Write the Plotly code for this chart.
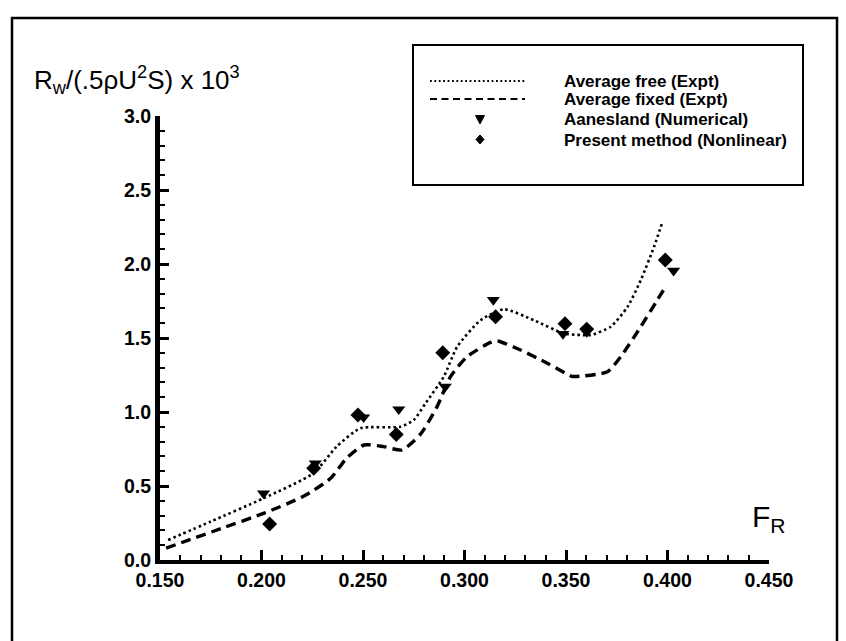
import plotly.graph_objects as go

# ---------------- data ----------------
free_x = [0.154, 0.175, 0.201, 0.2256, 0.237, 0.2487, 0.2684, 0.275, 0.2808, 0.2898,
          0.2964, 0.3079, 0.3194, 0.3342, 0.349, 0.3572, 0.3622, 0.372, 0.3803, 0.3868,
          0.3934, 0.3975]
free_y = [0.135, 0.26, 0.417, 0.586, 0.766, 0.89, 0.90, 0.946, 1.059, 1.239,
          1.441, 1.62, 1.694, 1.62, 1.53, 1.52, 1.52, 1.576, 1.71, 1.89,
          2.117, 2.285]

fixed_x = [0.153, 0.165, 0.180, 0.201, 0.2207, 0.2339, 0.2421, 0.2505, 0.2602, 0.2692,
           0.2783, 0.2865, 0.2931, 0.3013, 0.3128, 0.3161, 0.3276, 0.3408, 0.3507, 0.3531,
           0.3704, 0.377, 0.3868, 0.395, 0.3991]
fixed_y = [0.08, 0.139, 0.212, 0.315, 0.43, 0.55, 0.69, 0.777, 0.766, 0.743,
           0.85, 1.036, 1.239, 1.374, 1.47, 1.48, 1.419, 1.329, 1.255, 1.24,
           1.272, 1.374, 1.576, 1.757, 1.847]

aanes_x = [0.201, 0.2265, 0.2503, 0.2676, 0.2905, 0.3142, 0.3485, 0.3602, 0.403]
aanes_y = [0.45, 0.653, 0.964, 1.018, 1.171, 1.757, 1.527, 1.54, 1.955]

present_x = [0.204, 0.2257, 0.2475, 0.2664, 0.2893, 0.3153, 0.3495, 0.3602, 0.3989]
present_y = [0.243, 0.62, 0.98, 0.848, 1.40, 1.644, 1.597, 1.56, 2.027]

legend_labels = ["Average free (Expt)", "Average fixed (Expt)",
                 "Aanesland (Numerical)", "Present method (Nonlinear)"]
x_ticks = [0.150, 0.200, 0.250, 0.300, 0.350, 0.400, 0.450]
y_ticks = [0.0, 0.5, 1.0, 1.5, 2.0, 2.5, 3.0]

# ---------------- layout geometry ----------------
W, H = 846, 641
L, R, T, B = 160, 77, 116, 81
PW, PH = W - L - R, H - T - B


def P(px, py):
    """pixel position of a decoration -> paper coordinates"""
    return (px - L) / PW, (H - B - py) / PH


FONT = "Liberation Sans, Arial, sans-serif"

fig = go.Figure()
fig.add_trace(go.Scatter(x=free_x, y=free_y, mode="lines",
                         line=dict(color="black", width=2.6, dash="2.5px,3px",
                                   shape="spline", smoothing=0.6),
                         name=legend_labels[0], showlegend=False))
fig.add_trace(go.Scatter(x=fixed_x, y=fixed_y, mode="lines",
                         line=dict(color="black", width=3.4, dash="10px,6px",
                                   shape="spline", smoothing=0.6),
                         name=legend_labels[1], showlegend=False))
fig.add_trace(go.Scatter(x=aanes_x, y=aanes_y, mode="markers",
                         marker=dict(symbol="triangle-down", size=11.5, color="black"),
                         name=legend_labels[2], showlegend=False))
fig.add_trace(go.Scatter(x=present_x, y=present_y, mode="markers",
                         marker=dict(symbol="diamond", size=11.5, color="black"),
                         name=legend_labels[3], showlegend=False))

axis_common = dict(showgrid=False, zeroline=False, showline=True, linecolor="black",
                   ticks="inside", tickcolor="black",
                   tickfont=dict(family=FONT, size=19.5, color="black", weight="bold"))

fig.update_xaxes(range=[0.15, 0.45], tickvals=x_ticks, tickformat=".3f",
                 linewidth=4, ticklen=10, tickwidth=2.5,
                 minor=dict(dtick=0.01, ticks="inside", ticklen=5, tickwidth=2,
                            tickcolor="black"),
                 **axis_common)
fig.update_yaxes(range=[0, 3.0], tickvals=y_ticks, tickformat=".1f",
                 linewidth=5, ticklen=9, tickwidth=2.5,
                 minor=dict(dtick=0.1, ticks="inside", ticklen=5, tickwidth=2,
                            tickcolor="black"),
                 **axis_common)

shapes = []
annotations = []

# outer frame
fx0, fy0 = P(12, 660)
fx1, fy1 = P(837, 18)
shapes.append(dict(type="rect", xref="paper", yref="paper", x0=fx0, y0=fy0, x1=fx1, y1=fy1,
                   line=dict(color="black", width=2.5), layer="below"))

# legend box
lx0, ly0 = P(413, 185)
lx1, ly1 = P(803, 45)
shapes.append(dict(type="rect", xref="paper", yref="paper", x0=lx0, y0=ly0, x1=lx1, y1=ly1,
                   line=dict(color="black", width=2), fillcolor="white", layer="above"))

# legend line samples
sx0, sy = P(430, 81)
sx1, _ = P(525, 81)
shapes.append(dict(type="line", xref="paper", yref="paper", x0=sx0, y0=sy, x1=sx1, y1=sy,
                   line=dict(color="black", width=1.8, dash="1.8px,2.6px")))
sx0, sy = P(430, 99)
sx1, _ = P(525, 99)
shapes.append(dict(type="line", xref="paper", yref="paper", x0=sx0, y0=sy, x1=sx1, y1=sy,
                   line=dict(color="black", width=2, dash="7px,4.5px")))

# legend marker samples (triangle, diamond)
cx, cy = 480, 119.5
pts = [P(cx - 4.5, cy - 4), P(cx + 4.5, cy - 4), P(cx, cy + 4.5)]
shapes.append(dict(type="path", xref="paper", yref="paper",
                   path="M {} {} L {} {} L {} {} Z".format(*pts[0], *pts[1], *pts[2]),
                   fillcolor="black", line=dict(color="black", width=1)))
cx, cy = 480, 139.5
pts = [P(cx, cy - 4.5), P(cx + 4, cy), P(cx, cy + 4.5), P(cx - 4, cy)]
shapes.append(dict(type="path", xref="paper", yref="paper",
                   path="M {} {} L {} {} L {} {} L {} {} Z".format(*pts[0], *pts[1], *pts[2], *pts[3]),
                   fillcolor="black", line=dict(color="black", width=1)))

# legend texts
for label, py in zip(legend_labels, [81, 99, 119.5, 140]):
    tx, ty = P(562, py)
    annotations.append(dict(text=label, xref="paper", yref="paper", x=tx, y=ty,
                            xanchor="left", yanchor="middle", showarrow=False,
                            font=dict(family=FONT, size=17, color="black", weight="bold")))

# axis titles
tx, ty = P(32, 80)
annotations.append(dict(text="R<sub>w</sub>/(.5ρU<sup>2</sup>S) x 10<sup>3</sup>",
                        xref="paper", yref="paper", x=tx, y=ty, xanchor="left",
                        yanchor="middle", showarrow=False,
                        font=dict(family=FONT, size=26, color="black")))
tx, ty = P(750, 518)
annotations.append(dict(text="F<sub>R</sub>", xref="paper", yref="paper", x=tx, y=ty,
                        xanchor="left", yanchor="middle", showarrow=False,
                        font=dict(family=FONT, size=30, color="black")))

fig.update_layout(width=W, height=H, margin=dict(l=L, r=R, t=T, b=B),
                  paper_bgcolor="white", plot_bgcolor="white",
                  shapes=shapes, annotations=annotations, showlegend=False)

fig.write_html("out.html")
